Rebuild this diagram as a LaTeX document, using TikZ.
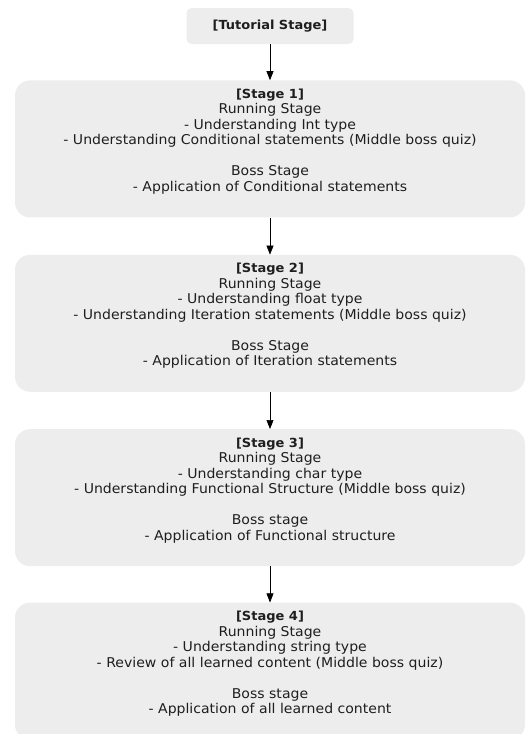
\documentclass[tikz,border=0pt]{standalone}
\usepackage{fontspec}
\setmainfont[FakeStretch=1.04]{DejaVu Sans}
\usetikzlibrary{positioning,arrows.meta}
\definecolor{boxgray}{HTML}{EDEDED}
\definecolor{inkgray}{HTML}{1E1E1E}
\newcommand{\stagetitle}[1]{{\fontsize{12.5}{15.5}\selectfont\bfseries #1}}
\begin{document}
\begin{tikzpicture}[x=1pt,y=1pt]
  \tikzstyle{tutorbox} = [rectangle, rounded corners=5pt, fill=boxgray, minimum width=167pt, minimum height=36pt, text=inkgray, font=\fontsize{12.5}{15.5}\selectfont\bfseries];
  \tikzstyle{stagebox} = [rectangle, rounded corners=15pt, fill=boxgray, inner xsep=0pt, inner ysep=0pt, text width=510pt, text height=18pt, text depth=119pt, align=center, text=inkgray, font=\fontsize{13.5}{15.5}\selectfont];
  \tikzstyle{flow} = [-{Triangle[width=7pt,length=9pt]}, semithick];

  \useasboundingbox (0,0) rectangle (529,-734);
  \clip (0,0) rectangle (529,-734);

  \node[tutorbox] (tutorial) at (270,-26) {[Tutorial Stage]};

  \node[stagebox, below=36pt of tutorial] (stage1) {%
    \stagetitle{[Stage 1]}\\
    Running Stage\\
    - Understanding Int type\\
    - Understanding Conditional statements (Middle boss quiz)\\[15.5pt]
    Boss Stage\\
    - Application of Conditional statements};

  \node[stagebox, below=37pt of stage1] (stage2) {%
    \stagetitle{[Stage 2]}\\
    Running Stage\\
    - Understanding float type\\
    - Understanding Iteration statements (Middle boss quiz)\\[15.5pt]
    Boss Stage\\
    - Application of Iteration statements};

  \node[stagebox, below=37pt of stage2] (stage3) {%
    \stagetitle{[Stage 3]}\\
    Running Stage\\
    - Understanding char type\\
    - Understanding Functional Structure (Middle boss quiz)\\[15.5pt]
    Boss stage\\
    - Application of Functional structure};

  \node[stagebox, below=36pt of stage3] (stage4) {%
    \stagetitle{[Stage 4]}\\
    Running Stage\\
    - Understanding string type\\
    - Review of all learned content (Middle boss quiz)\\[15.5pt]
    Boss stage\\
    - Application of all learned content};

  \draw[flow] (tutorial) -- (stage1);
  \draw[flow] (stage1) -- (stage2);
  \draw[flow] (stage2) -- (stage3);
  \draw[flow] (stage3) -- (stage4);
\end{tikzpicture}
\end{document}
